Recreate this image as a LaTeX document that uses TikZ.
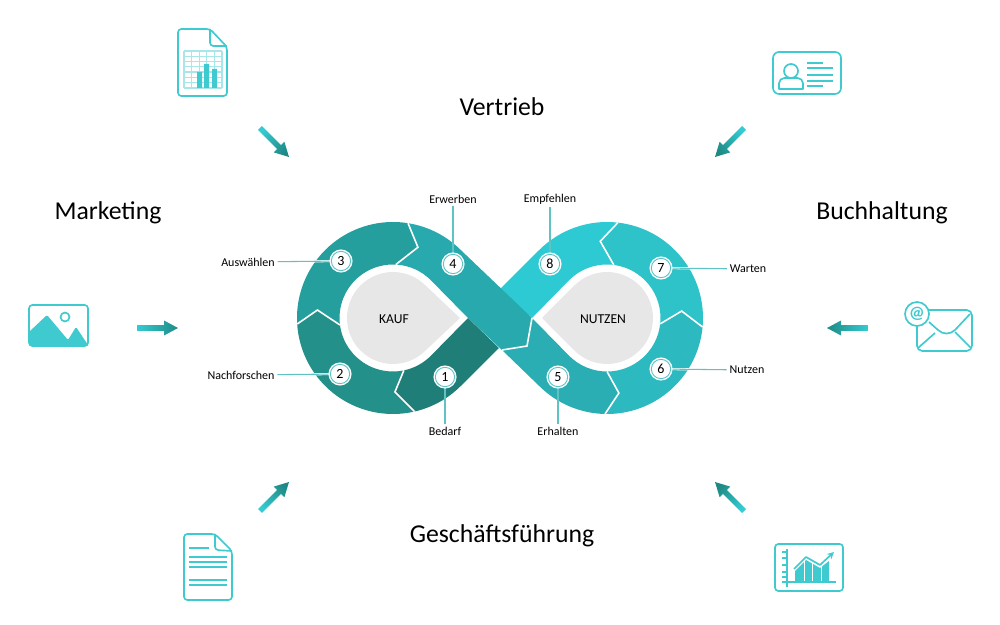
\documentclass[tikz,border=0pt]{standalone}
\usepackage{fontspec}
\setmainfont{Carlito}
\definecolor{segone}{HTML}{1F7F78}
\definecolor{segtwo}{HTML}{24908A}
\definecolor{segthree}{HTML}{259F9D}
\definecolor{segfour}{HTML}{27A9AD}
\definecolor{segfive}{HTML}{2AAEB3}
\definecolor{segsix}{HTML}{2CB9BF}
\definecolor{segseven}{HTML}{2EC2C9}
\definecolor{segeight}{HTML}{2ECAD3}
\definecolor{iconcol}{HTML}{3FCAD0}
\definecolor{gridcol}{HTML}{A8E6E9}
\definecolor{leadcol}{HTML}{5FC3C4}
\definecolor{greydrop}{HTML}{E7E7E7}
\definecolor{arrowdark}{HTML}{1F8A85}
\definecolor{arrowlight}{HTML}{34CBD2}
\tikzset{
  icon/.style={draw=iconcol,line width=1.25pt,line join=round},
  iconbar/.style={fill=iconcol},
  notch/.style={draw=white,line width=1.2pt},
  leader/.style={draw=leadcol,line width=0.8pt,preaction={draw=white,line width=1.6pt}},
  numdot/.style={circle,draw=leadcol,fill=white,line width=0.7pt,minimum size=14.5pt,inner sep=0pt,font=\fontsize{10.5}{12}\selectfont,preaction={draw=white,line width=2.8pt}},
  smalllabel/.style={inner sep=2pt,font=\fontsize{9}{10}\selectfont},
  droplabel/.style={font=\fontsize{10.2}{12}\selectfont},
  title/.style={font=\fontsize{19.3}{22}\selectfont}
}
\newcommand{\flowarrow}[2]{\shade[shift={(#1)},rotate=#2,bottom color=arrowlight,top color=arrowdark,shading angle=#2-90]
        (0,2.8) -- (27,2.8) -- (27,7.5) -- (41,0) -- (27,-7.5) -- (27,-2.8) -- (0,-2.8) -- cycle;}
\begin{document}
\begin{tikzpicture}[x=0.75pt,y=0.75pt]
        \useasboundingbox (0,0) rectangle (1000,625);
        \def\ro{96} \def\ri{53.5}
        \coordinate (L) at (393,307);
        \coordinate (R) at (607,307);

        \fill[segone,shift={(L)}] (281.7:\ri) -- (271.5:74) -- (283:\ro) arc[start angle=283,end angle=315,radius=\ro] -- (106,-30) -- (75,0) -- (315:\ri) arc[start angle=315,end angle=281.7,radius=\ri] -- cycle;
        \fill[segtwo,shift={(L)}] (187.5:\ri) -- (174:76) -- (183.6:\ro) arc[start angle=183.6,end angle=283,radius=\ro] -- (271.5:74) -- (281.7:\ri) arc[start angle=281.7,end angle=187.5,radius=\ri] -- cycle;
        \fill[segthree,shift={(L)}] (187.5:\ri) -- (174:76) -- (183.6:\ro) arc[start angle=183.6,end angle=81,radius=\ro] -- (70.6:75) -- (87:\ri) arc[start angle=87,end angle=187.5,radius=\ri] -- cycle;
        \fill[segeight,shift={(R)}] (-75,0) -- (135:\ri) arc[start angle=135,end angle=82.7,radius=\ri] -- (95:77) -- (83.5:\ro) arc[start angle=83.5,end angle=135,radius=\ro] -- (-107,29) -- cycle;
        \fill[segfour,shift={(L)}] (87:\ri) -- (70.6:75) -- (81:\ro) arc[start angle=81,end angle=45,radius=\ro] -- (139,0) -- (134,-28) -- (109,-32) -- (75,0) -- (45:\ri) arc[start angle=45,end angle=87,radius=\ri] -- cycle;
        \fill[segfive,shift={(R)}] (-75,0) -- (225:\ri) arc[start angle=225,end angle=270,radius=\ri] -- (-81:76) -- (-91.2:\ro) arc[start angle=-91.2,end angle=-135,radius=\ro] -- (-105,-32) -- (-80,-28) -- cycle;
        \fill[segsix,shift={(R)}] (-6.3:\ri) -- (5.3:75) -- (-5.4:\ro) arc[start angle=-5.4,end angle=-91.2,radius=\ro] -- (-81:76) -- (-90:\ri) arc[start angle=-90,end angle=-6.3,radius=\ri] -- cycle;
        \fill[segseven,shift={(R)}] (82.7:\ri) -- (95:77) -- (83.5:\ro) arc[start angle=83.5,end angle=-5.4,radius=\ro] -- (5.3:75) -- (-6.3:\ri) arc[start angle=-6.3,end angle=82.7,radius=\ri] -- cycle;

        \draw[notch,shift={(L)}] (87:\ri) -- (70.6:75) -- (81:\ro) (187.5:\ri) -- (174:76) -- (183.6:\ro) (281.7:\ri) -- (271.5:74) -- (283:\ro);
        \draw[notch,shift={(R)}] (82.7:\ri) -- (95:77) -- (83.5:\ro) (-6.3:\ri) -- (5.3:75) -- (-5.4:\ro) (-90:\ri) -- (-81:76) -- (-91.2:\ro);
        \draw[notch,shift={(R)}] (-75,0) -- (-80,-28) -- (-105,-32);

        \fill[greydrop,shift={(L)}] (45:46) arc[start angle=45,end angle=315,radius=46] -- (67,0) -- cycle;
        \fill[greydrop,shift={(R)}] (225:46) arc[start angle=225,end angle=495,radius=46] -- (-65,0) -- cycle;
        \node[droplabel] (kauf) at (394,306) {KAUF};
        \node[droplabel] (nutzen) at (603,306) {NUTZEN};

        \node[smalllabel] (lbedarf) at (445,194) {Bedarf};
        \node[smalllabel] (lforschen) at (241,250) {Nachforschen};
        \node[smalllabel] (lwaehlen) at (248,363) {Auswählen};
        \node[smalllabel] (lerwerben) at (453,426) {Erwerben};
        \node[smalllabel] (lerhalten) at (558,194) {Erhalten};
        \node[smalllabel] (lnutzen) at (747,255) {Nutzen};
        \node[smalllabel] (lwarten) at (748,356) {Warten};
        \node[smalllabel] (lempfehlen) at (550,426) {Empfehlen};

        \coordinate (c1) at (445,248);
        \coordinate (c2) at (340,251);
        \coordinate (c3) at (341,364);
        \coordinate (c4) at (453,361);
        \coordinate (c5) at (558,248);
        \coordinate (c6) at (661,256);
        \coordinate (c7) at (661,357);
        \coordinate (c8) at (550,361);
        \draw[leader] (c1) -- (lbedarf);
        \draw[leader] (c2) -- (lforschen);
        \draw[leader] (c3) -- (lwaehlen);
        \draw[leader] (c4) -- (lerwerben);
        \draw[leader] (c5) -- (lerhalten);
        \draw[leader] (c6) -- (lnutzen);
        \draw[leader] (c7) -- (lwarten);
        \draw[leader] (c8) -- (lempfehlen);
        \node[numdot] (n1) at (c1) {1};
        \node[numdot] (n2) at (c2) {2};
        \node[numdot] (n3) at (c3) {3};
        \node[numdot] (n4) at (c4) {4};
        \node[numdot] (n5) at (c5) {5};
        \node[numdot] (n6) at (c6) {6};
        \node[numdot] (n7) at (c7) {7};
        \node[numdot] (n8) at (c8) {8};

        \node[title] (vertrieb) at (502,518) {Vertrieb};
        \node[title] (marketing) at (108,412) {Marketing};
        \node[title] (buchhaltung) at (882,412) {Buchhaltung};
        \node[title] (fuehrung) at (502,89) {Geschäftsführung};

        \flowarrow{137,297}{0}
        \flowarrow{868,297}{180}
        \flowarrow{260,497}{-45}
        \flowarrow{744,497}{-135}
        \flowarrow{260,114}{45}
        \flowarrow{744,114}{135}

        \foreach \x in {184,191.6,199.2,206.8,214.4,222} \draw[gridcol,line width=0.9pt] (\x,537) -- (\x,574);
        \foreach \y in {537,542.3,547.6,552.9,558.1,563.4,568.7,574} \draw[gridcol,line width=0.9pt] (184,\y) -- (222,\y);
        \fill[iconbar] (197,537) rectangle (202,553) (204,537) rectangle (209,561) (212,537) rectangle (217,556);
        \draw[icon,rounded corners=2.5] (178,529) -- (178,596) -- (210,596) -- (227,578) -- (227,529) -- cycle;
        \draw[icon,rounded corners=2.5] (210,596) -- (210,579) -- (227,579);

        \draw[icon,rounded corners=4.5] (773,531) rectangle (841,573);
        \draw[icon] (791,554) circle[radius=7];
        \draw[icon] (779,536) [rounded corners=4] -- (779,547) -- (803,547) [sharp corners] -- (803,536) -- cycle;
        \draw[icon] (807,562) -- (823,562) (807,557) -- (833,557) (807,550) -- (833,550) (807,544) -- (833,544) (807,539) -- (823,539);

        \fill[iconbar,rounded corners=1] (29,293) -- (47,310) -- (68,285) -- (76,298) -- (88,280) -- (88,279) -- (29,279) -- cycle;
        \draw[icon,rounded corners=2.5] (29,279) rectangle (88,320);
        \draw[icon] (65,308) circle[radius=4.5];

        \draw[icon,rounded corners=4] (917,274) rectangle (972,315);
        \draw[icon] (929,303) -- (938,295) to[out=-45,in=-135] (955,295) -- (970,311);
        \draw[icon] (918,277) -- (935,292) (971,277) -- (955,293);
        \draw[icon,fill=white] (917,311) circle[radius=12];
        \node[text=iconcol,font=\fontsize{13}{14}\selectfont\bfseries] (mailat) at (917,311) {@};

        \draw[icon,rounded corners=2.5] (184,25) -- (184,91) -- (215,91) -- (232,74) -- (232,25) -- cycle;
        \draw[icon,rounded corners=2.5] (215,91) -- (215,75) -- (232,74);
        \draw[icon] (189,77) -- (209,77) (189,68) -- (227,68) (189,63) -- (227,63) (189,58) -- (227,58) (189,45) -- (227,45) (189,40) -- (227,40);

        \draw[icon,rounded corners=2.5] (775,34) rectangle (843,81);
        \draw[icon] (787,38) -- (787,76) (782,43) -- (836,43);
        \draw[icon] (782,73) -- (787,73) (782,67) -- (787,67) (782,60) -- (787,60) (782,53) -- (787,53) (782,48) -- (787,48);
        \fill[iconbar] (795,44) -- (795,54) -- (806,65) -- (820,57) -- (829,64) -- (829,44) -- cycle;
        \draw[white,line width=0.7pt] (804,44) -- (804,66) (812,44) -- (812,66) (821,44) -- (821,60);
        \draw[icon,-stealth] (794,56) -- (806,68) -- (820,60) -- (834,73);
      \end{tikzpicture}
\end{document}
